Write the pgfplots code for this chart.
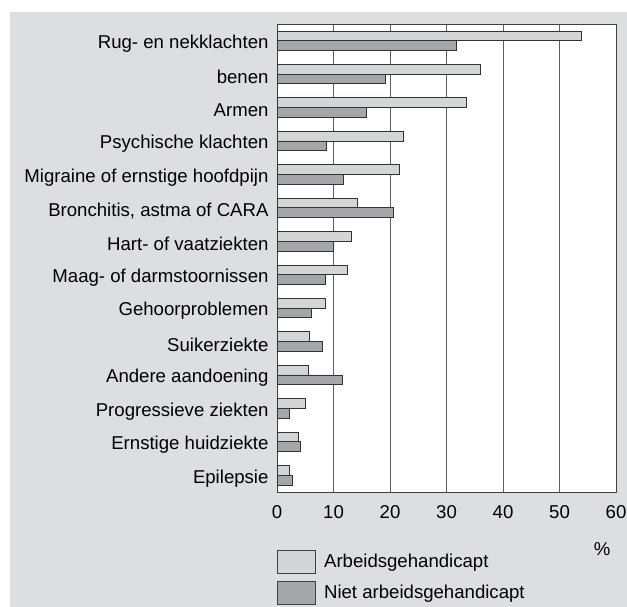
\documentclass[border=0pt]{standalone}
\usepackage{pgfplots}
\pgfplotsset{compat=1.18}
\usepackage{fontspec}
\setmainfont{Liberation Sans}
\definecolor{bg}{RGB}{221,222,224}
\definecolor{lightbar}{RGB}{212,213,215}
\definecolor{darkbar}{RGB}{165,166,169}
\definecolor{gridc}{RGB}{95,95,95}
\newcommand{\lf}{\fontsize{18.6bp}{22bp}\selectfont}
\begin{document}
\begin{tikzpicture}[x=1bp,y=1bp,font=\lf]
\path[use as bounding box] (0,0) rectangle (627,607);
\fill[bg] (10,0) rectangle (627,595);
\begin{axis}[at={(277bp,115bp)}, anchor=south west,
  width=339bp, height=468bp, scale only axis,
  xbar, bar width=9.7bp,
  xmin=0, xmax=60, ymin=-0.5, ymax=13.5,
  ytick={0,...,13},
  yticklabels={Epilepsie,Ernstige huidziekte,Progressieve ziekten,Andere aandoening,Suikerziekte,Gehoorproblemen,Maag- of darmstoornissen,Hart- of vaatziekten,{Bronchitis, astma of CARA},Migraine of ernstige hoofdpijn,Psychische klachten,Armen,benen,Rug- en nekklachten},
  xtick={0,10,...,60},
  major tick length=0pt,
  xmajorgrids, grid style={draw=gridc, line width=0.9bp},
  axis background/.style={fill=white},
  axis line style={draw=black!75, line width=0.9bp},
  /pgf/number format/assume math mode=true,
  ticklabel style={font=\lf},
  xticklabel style={yshift=-10bp},
  yticklabel style={xshift=-5bp, yshift=-3bp},
  xlabel={\%},
  xlabel style={at={(axis description cs:0.959,-0.122)}, anchor=center, font=\lf},
  legend style={at={(axis description cs:0,-0.1235)}, anchor=north west, draw=none, fill=none,
    inner sep=0pt, row sep=7bp, font=\lf, legend cell align=left,
    /tikz/every odd column/.append style={column sep=6bp}},
]
\addplot[xbar, bar shift=4.85bp, fill=lightbar, draw=black!80, line width=0.9bp,
  legend image code/.code={\draw[fill=lightbar, draw=black!75, line width=0.9bp] (0bp,-11.5bp) rectangle (38bp,11.5bp);}]
  coordinates {(53.9,13) (36.0,12) (33.6,11) (22.4,10) (21.75,9) (14.2,8) (13.1,7) (12.5,6) (8.6,5) (5.7,4) (5.55,3) (5.0,2) (3.8,1) (2.2,0)};
\addlegendentry{Arbeidsgehandicapt}
\addplot[xbar, bar shift=-4.85bp, fill=darkbar, draw=black!80, line width=0.9bp,
  legend image code/.code={\draw[fill=darkbar, draw=black!75, line width=0.9bp] (0bp,-11.5bp) rectangle (38bp,11.5bp);}]
  coordinates {(31.8,13) (19.2,12) (15.9,11) (8.8,10) (11.8,9) (20.6,8) (10.0,7) (8.6,6) (6.1,5) (8.0,4) (11.5,3) (2.25,2) (4.1,1) (2.65,0)};
\addlegendentry{Niet arbeidsgehandicapt}
\end{axis}
\end{tikzpicture}
\end{document}
